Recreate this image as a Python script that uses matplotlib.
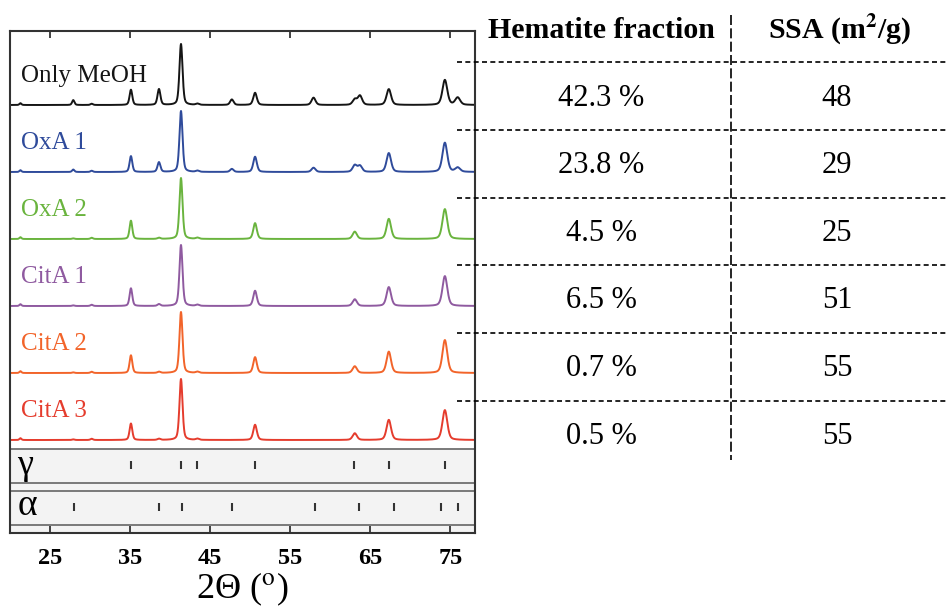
import numpy as np
import matplotlib
matplotlib.use("Agg")
import matplotlib.pyplot as plt

plt.rcParams['font.family'] = ['Liberation Serif', 'DejaVu Serif']
plt.rcParams['mathtext.fontset'] = 'stix'

# XRD patterns: peak positions (2theta, deg) and relative intensities
samples = ["Only MeOH", "OxA 1", "OxA 2", "CitA 1", "CitA 2", "CitA 3"]
colors = ["#151515", "#2f4b9b", "#6ab43e", "#8f5aa0", "#f2642a", "#e53c2d"]
peak_pos = [21.3, 27.9, 30.2, 35.1, 38.6, 41.35, 43.4, 47.7, 50.6, 57.9, 63.05, 63.7, 67.3, 74.3, 75.9]
meoh = [0.03, 0.08, 0.02, 0.25, 0.26, 1.00, 0.02, 0.09, 0.20, 0.12, 0.09, 0.15, 0.26, 0.41, 0.12]
oxa1 = [0.03, 0.04, 0.02, 0.26, 0.16, 1.00, 0.02, 0.05, 0.25, 0.07, 0.11, 0.10, 0.31, 0.48, 0.07]
oxa2 = [0.03, 0.01, 0.02, 0.30, 0.02, 1.00, 0.02, 0.00, 0.26, 0.00, 0.12, 0.00, 0.33, 0.49, 0.00]
cita1 = [0.03, 0.01, 0.02, 0.29, 0.03, 1.00, 0.02, 0.00, 0.25, 0.00, 0.11, 0.00, 0.31, 0.49, 0.00]
cita2 = [0.03, 0.01, 0.02, 0.29, 0.02, 1.00, 0.02, 0.00, 0.26, 0.00, 0.11, 0.00, 0.35, 0.54, 0.00]
cita3 = [0.03, 0.01, 0.02, 0.27, 0.02, 1.00, 0.02, 0.00, 0.25, 0.00, 0.11, 0.00, 0.33, 0.49, 0.00]
intensities = [meoh, oxa1, oxa2, cita1, cita2, cita3]

# reference stick positions
gamma_ref = [35.1, 41.3, 43.4, 50.6, 63.0, 67.3, 74.3]
alpha_ref = [28.0, 38.6, 41.5, 47.7, 58.1, 63.6, 67.9, 73.8, 75.9]

# table
hematite = ["42.3 %", "23.8 %", "4.5 %", "6.5 %", "0.7 %", "0.5 %"]
ssa = ["48", "29", "25", "51", "55", "55"]


def pattern(x, pos, amp):
    y = np.zeros_like(x)
    for p, a in zip(pos, amp):
        w = 0.008 * p + 0.12
        lor = 1 / (1 + ((x - p) / (w / 2)) ** 2)
        gau = np.exp(-4 * np.log(2) * ((x - p) / w) ** 2)
        y += a * (0.4 * lor + 0.6 * gau)
    return y


fig = plt.figure(figsize=(9.46, 6.12), dpi=100)
W, H = 946, 612
top, bot = 31, 532.5
ax = fig.add_axes([10 / W, 1 - bot / H, (474.5 - 10) / W, (bot - top) / H])
ax.set_xlim(20, 78)
ax.set_ylim(0, bot - top)

x = np.linspace(20, 78, 3000)
spacing, scale = 67, 61
base0 = bot - 105
for i, (name, c, amp) in enumerate(zip(samples, colors, intensities)):
    b = base0 - i * spacing
    ax.plot(x, b + scale * pattern(x, peak_pos, amp), color=c, lw=1.4)
    ax.text(21.4, b + 23, name, color=c, fontsize=18, va='baseline', ha='left')

# reference panels
ax.axhspan(0, bot - 449, color='#f3f3f3', zorder=0)
for yp in [449, 482.7, 490.7, 525]:
    ax.axhline(bot - yp, color='#707070', lw=1.3)
ax.vlines(gamma_ref, bot - 469, bot - 461, color='#333333', lw=1.5)
ax.vlines(alpha_ref, bot - 511, bot - 503, color='#333333', lw=1.5)
ax.text(20.9, bot - 465, "γ", fontsize=26, va='center', ha='left')
ax.text(20.9, bot - 506, "α", fontsize=27, va='center', ha='left')

ax.set_xticks([25, 35, 45, 55, 65, 75])
ax.set_yticks([])
ax.tick_params(axis='x', direction='in', top=True, length=5, width=1.3, color='#333333',
               labelsize=17.5, pad=11)
for lab in ax.get_xticklabels():
    lab.set_fontweight('bold')
for s in ax.spines.values():
    s.set_color('#333333')
    s.set_linewidth(1.5)
ax.set_xlabel(r"2Θ ($^{\mathrm{o}}$)", fontsize=26, labelpad=1)

# table overlay in pixel coordinates
tab = fig.add_axes([0, 0, 1, 1])
tab.set_xlim(0, W)
tab.set_ylim(H, 0)
tab.axis('off')
tab.patch.set_alpha(0)
tab.text(601, 30, "Hematite fraction", fontsize=21.5, fontweight='bold', ha='center', va='center')
tab.text(840, 30, r"SSA (m$^{\mathbf{2}}$/g)", fontsize=21.5, fontweight='bold', ha='center', va='center')
row_lines = [62, 129.5, 197.5, 265, 333, 400.5]
for yl in row_lines:
    tab.plot([457, W], [yl, yl], color='black', lw=1.2, ls=(0, (3, 2)))
tab.plot([731, 731], [15, 460], color='black', lw=1.2, ls=(0, (6, 2)))
for yl, h, s in zip(row_lines, hematite, ssa):
    tab.text(601, yl + 36, h, fontsize=22, ha='center', va='center')
    tab.text(837, yl + 36, s, fontsize=22, ha='center', va='center')

fig.savefig("out.png", dpi=100)
